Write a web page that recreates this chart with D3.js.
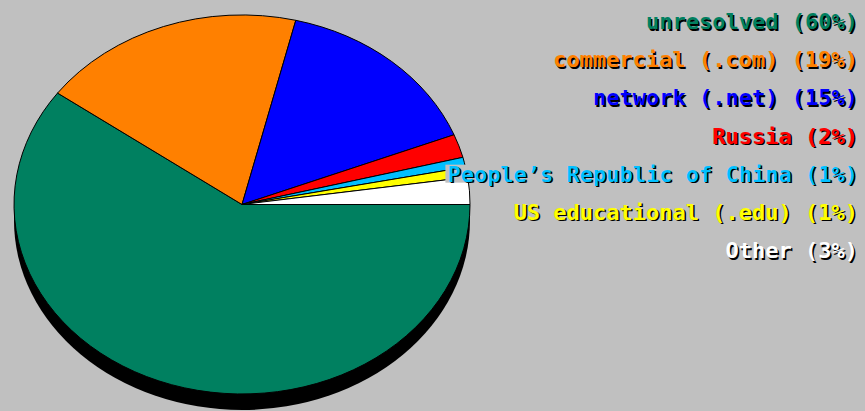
<!DOCTYPE html>
<html>
<head>
<meta charset="utf-8">
<script src="https://cdn.jsdelivr.net/npm/d3@7"></script>
<style>
  html, body { margin: 0; padding: 0; background: #C0C0C0; }
  svg { display: block; }
  text { font-family: "DejaVu Sans Mono", "Liberation Mono", monospace; font-weight: bold; font-size: 22px; }
</style>
</head>
<body>
<svg id="chart" width="865" height="411"></svg>
<script>
// ---- data ----
const categories = ["unresolved", "commercial (.com)", "network (.net)", "Russia",
                    "People’s Republic of China", "US educational (.edu)", "Other"];
const labelPercents = [60, 19, 15, 2, 1, 1, 3];
// slice shares as drawn in the picture (percent of the full circle)
const shares = [60.0, 18.8, 15.2, 2.0, 0.85, 0.85, 2.3];
const colors = ["#008060", "#FF8000", "#0000FF", "#FF0000", "#00BFFF", "#FFFF00", "#FFFFFF"];

// ---- layout ----
const W = 865, H = 411;
const cx = 242, cy = 204.5, rx = 228, ry = 189.5, depth = 16;

const svg = d3.select("#chart");
svg.append("rect").attr("width", W).attr("height", H).attr("fill", "#C0C0C0");

// shadow
svg.append("ellipse")
  .attr("cx", cx).attr("cy", cy + depth)
  .attr("rx", rx).attr("ry", ry)
  .attr("fill", "#000");

const pie = d3.pie().sort(null)
  .startAngle(Math.PI / 2)
  .endAngle(Math.PI / 2 + 2 * Math.PI);
const arcs = pie(shares);
const arc = d3.arc().innerRadius(0).outerRadius(1);

const g = svg.append("g")
  .attr("transform", `translate(${cx},${cy}) scale(${rx},${ry})`);
g.selectAll("path")
  .data(arcs)
  .join("path")
  .attr("d", arc)
  .attr("fill", (d, i) => colors[i])
  .attr("stroke", "#000")
  .attr("stroke-width", 1)
  .attr("vector-effect", "non-scaling-stroke");

// ---- labels ----
const yScale = d3.scaleLinear().domain([0, categories.length - 1]).range([29, 258]);
const labelX = 858;
const lg = svg.append("g");
categories.forEach((c, i) => {
  const txt = `${c} (${labelPercents[i]}%)`;
  const y = yScale(i);
  const grp = lg.append("g");
  const bg = grp.append("rect").attr("fill", "#C0C0C0");
  grp.append("text")
    .attr("x", labelX + 1.5).attr("y", y + 1.5)
    .attr("text-anchor", "end").attr("fill", "#000").text(txt);
  const t = grp.append("text")
    .attr("x", labelX).attr("y", y)
    .attr("text-anchor", "end").attr("fill", colors[i]).text(txt);
  const bb = t.node().getBBox();
  bg.attr("x", bb.x - 2).attr("y", y - 17)
    .attr("width", bb.width + 4).attr("height", 18);
});
</script>
</body>
</html>
